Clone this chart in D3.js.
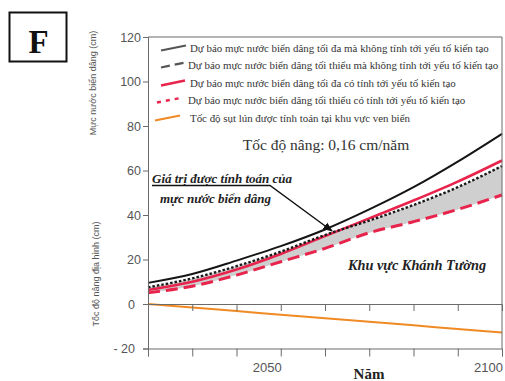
<!DOCTYPE html>
<html>
<head>
<meta charset="utf-8">
<script src="https://cdn.jsdelivr.net/npm/d3@7"></script>
<style>
  html, body { margin: 0; padding: 0; background: #fff; }
  svg { display: block; }
</style>
</head>
<body>
<svg id="chart" width="505" height="381"></svg>
<script>
// Sea-level rise projections, Khánh Tường area (cm), by decade
const years = [2020, 2030, 2040, 2050, 2060, 2070, 2080, 2090, 2100];
const maxNoTectonic = [9.5, 13.5, 19.5, 26, 33.5, 42.5, 52.5, 64, 76.5];
const minNoTectonic = [7.5, 11.5, 17, 23.5, 31, 37.5, 44.5, 52.5, 62];
const maxTectonic = [6.3, 10, 15.5, 22.5, 30.5, 38.5, 46.5, 55, 64.5];
const minTectonic = [5, 8, 13, 19, 25, 32, 37, 42.5, 49];
const subsidence = [0, -1.6, -3.2, -4.8, -6.4, -8.0, -9.6, -11.2, -12.8];

const yTicks = [-20, 0, 20, 40, 60, 80, 100, 120];
const xTicks = [2020, 2030, 2040, 2050, 2060, 2070, 2080, 2090, 2100];
const xLabels = [2050, 2100];

const legendItems = [
  "Dự báo mực nước biển dâng tối đa mà không tính tới yếu tố kiến tạo",
  "Dự báo mực nước biển dâng tối thiểu mà không tính tới yếu tố kiến tạo",
  "Dự báo mực nước biển dâng tối đa có tính tới yếu tố kiến tạo",
  "Dự báo mực nước biển dâng tối thiểu có tính tới yếu tố kiến tạo",
  "Tốc độ sụt lún được tính toán tại khu vực ven biển"
];

const svg = d3.select("#chart");
const x = d3.scaleLinear().domain([2020, 2100]).range([148, 502]);
const y = d3.scaleLinear().domain([-20, 120]).range([348.5, 37]);

const axisColor = "#6b6b6b";
const labelColor = "#555";
const RED = "#e8244c";
const ORANGE = "#f08a24";
const serif = "Liberation Serif, Times New Roman, serif";
const sans = "Liberation Sans, Arial, sans-serif";

// Panel letter
svg.append("rect").attr("x", 9.5).attr("y", 12.5).attr("width", 57).attr("height", 49)
  .attr("fill", "none").attr("stroke", "#111").attr("stroke-width", 2);
svg.append("text").attr("x", 38.5).attr("y", 53).attr("text-anchor", "middle")
  .attr("font-family", serif).attr("font-weight", "bold")
  .attr("font-size", 33).attr("fill", "#111").text("F");

// Series
const pts = arr => years.map((yr, i) => [yr, arr[i]]);
const line = d3.line().x(d => x(d[0])).y(d => y(d[1])).curve(d3.curveMonotoneX);

const band = d3.area()
  .x((d, i) => x(years[i]))
  .y0((d, i) => y(minTectonic[i]))
  .y1((d, i) => y(minNoTectonic[i]))
  .curve(d3.curveMonotoneX);
svg.append("path").datum(years).attr("d", band).attr("fill", "#cfcfcf");

svg.append("path").datum(pts(minTectonic)).attr("d", line)
  .attr("fill", "none").attr("stroke", RED).attr("stroke-width", 3)
  .attr("stroke-dasharray", "12,6");
svg.append("path").datum(pts(maxTectonic)).attr("d", line)
  .attr("fill", "none").attr("stroke", RED).attr("stroke-width", 2.6);
svg.append("path").datum(pts(minNoTectonic)).attr("d", line)
  .attr("fill", "none").attr("stroke", "#1a1a1a").attr("stroke-width", 2.4)
  .attr("stroke-dasharray", "2.5,2");
svg.append("path").datum(pts(maxNoTectonic)).attr("d", line)
  .attr("fill", "none").attr("stroke", "#151515").attr("stroke-width", 2);
svg.append("path").datum(pts(subsidence)).attr("d", line)
  .attr("fill", "none").attr("stroke", ORANGE).attr("stroke-width", 2);

// Frame, zero line and axes
const frame = svg.append("g").attr("stroke", axisColor).attr("stroke-width", 1).attr("fill", "none");
frame.append("line").attr("x1", x(2020)).attr("x2", x(2100)).attr("y1", y(120)).attr("y2", y(120));
frame.append("line").attr("x1", x(2100)).attr("x2", x(2100)).attr("y1", y(120)).attr("y2", y(-20));

const yAxis = d3.axisLeft(y).tickValues(yTicks).tickSize(5).tickPadding(2)
  .tickFormat(d => d < 0 ? "- " + Math.abs(d) : d);
const gy = svg.append("g").attr("transform", `translate(${x(2020)},0)`).call(yAxis);
gy.select(".domain").attr("stroke", axisColor);
gy.selectAll(".tick line").attr("stroke", axisColor);
gy.selectAll(".tick text").attr("fill", labelColor).attr("font-size", 12.5)
  .attr("font-family", sans)
  .attr("dx", d => d <= 0 ? -6 : 0);

const xAxisZero = d3.axisBottom(x).tickValues(xTicks.slice(1, -1)).tickSize(7).tickFormat("");
const gz = svg.append("g").attr("transform", `translate(0,${y(0)})`).call(xAxisZero);
gz.select(".domain").attr("stroke", axisColor);
gz.selectAll(".tick line").attr("stroke", axisColor);

const xAxisBottom = d3.axisBottom(x).tickValues(xTicks).tickSize(8).tickFormat("");
const gb = svg.append("g").attr("transform", `translate(0,${y(-20)})`).call(xAxisBottom);
gb.select(".domain").attr("stroke", axisColor);
gb.selectAll(".tick line").attr("stroke", axisColor);

svg.append("g").selectAll("text").data(xLabels).join("text")
  .attr("x", d => x(d) + 1).attr("y", 372).attr("text-anchor", "end")
  .attr("font-family", sans).attr("font-size", 13)
  .attr("fill", labelColor).text(d => d);

svg.append("text").attr("x", 369).attr("y", 378.5).attr("text-anchor", "middle")
  .attr("font-family", serif).attr("font-weight", "bold")
  .attr("font-size", 15).attr("fill", "#222").text("Năm");

// Axis titles
svg.append("text").attr("transform", "translate(96,83) rotate(-90)").attr("text-anchor", "middle")
  .attr("font-family", sans).attr("font-size", 9)
  .attr("fill", labelColor).text("Mực nước biển dâng (cm)");
svg.append("text").attr("transform", "translate(99,274) rotate(-90)").attr("text-anchor", "middle")
  .attr("font-family", sans).attr("font-size", 9)
  .attr("fill", labelColor).text("Tốc độ nâng địa hình (cm)");

// Legend
const legendY = [48, 65, 83, 100, 118];
const legendStyles = [
  { stroke: "#555", width: 2.2, dash: null, x1: 161, x2: 186 },
  { stroke: "#555", width: 2.2, dash: "9,5", x1: 161, x2: 185 },
  { stroke: RED, width: 2.4, dash: null, x1: 161, x2: 185 },
  { stroke: RED, width: 2.4, dash: "4,5", x1: 157, x2: 183 },
  { stroke: ORANGE, width: 2.2, dash: null, x1: 155, x2: 180 }
];
const lg = svg.append("g");
legendItems.forEach((t, i) => {
  const s = legendStyles[i];
  const cy = legendY[i];
  lg.append("line").attr("x1", s.x1).attr("x2", s.x2).attr("y1", cy + 2.5).attr("y2", cy - 2.5)
    .attr("stroke", s.stroke).attr("stroke-width", s.width)
    .attr("stroke-dasharray", s.dash);
  lg.append("text").attr("x", i === 1 || i === 3 ? 188 : 190).attr("y", cy + 3.5)
    .attr("font-family", serif).attr("font-size", 10.9)
    .attr("fill", "#333").text(t);
});

// Annotations
svg.append("text").attr("x", 326).attr("y", 150).attr("text-anchor", "middle")
  .attr("font-family", serif).attr("font-size", 15.5)
  .attr("fill", "#333").text("Tốc độ nâng: 0,16 cm/năm");

svg.append("text").attr("x", 152).attr("y", 183).attr("font-family", serif)
  .attr("font-weight", "bold").attr("font-style", "italic").attr("font-size", 13)
  .attr("fill", "#222").text("Giá trị được tính toán của");
svg.append("text").attr("x", 160).attr("y", 203).attr("font-family", serif)
  .attr("font-weight", "bold").attr("font-style", "italic").attr("font-size", 13)
  .attr("fill", "#222").text("mực nước biển dâng");

svg.append("defs").append("marker").attr("id", "arrow").attr("viewBox", "0 0 10 10")
  .attr("refX", 9).attr("refY", 5).attr("markerWidth", 7).attr("markerHeight", 7)
  .attr("orient", "auto").append("path").attr("d", "M0,1 L10,5 L0,9 Z").attr("fill", "#111");
svg.append("path").attr("d", "M152,185.5 L270,185.5 L332,231")
  .attr("fill", "none").attr("stroke", "#111").attr("stroke-width", 1.4)
  .attr("marker-end", "url(#arrow)");

svg.append("text").attr("x", 348).attr("y", 270).attr("font-family", serif)
  .attr("font-weight", "bold").attr("font-style", "italic").attr("font-size", 14.3)
  .attr("fill", "#222").text("Khu vực Khánh Tường");
</script>
</body>
</html>
